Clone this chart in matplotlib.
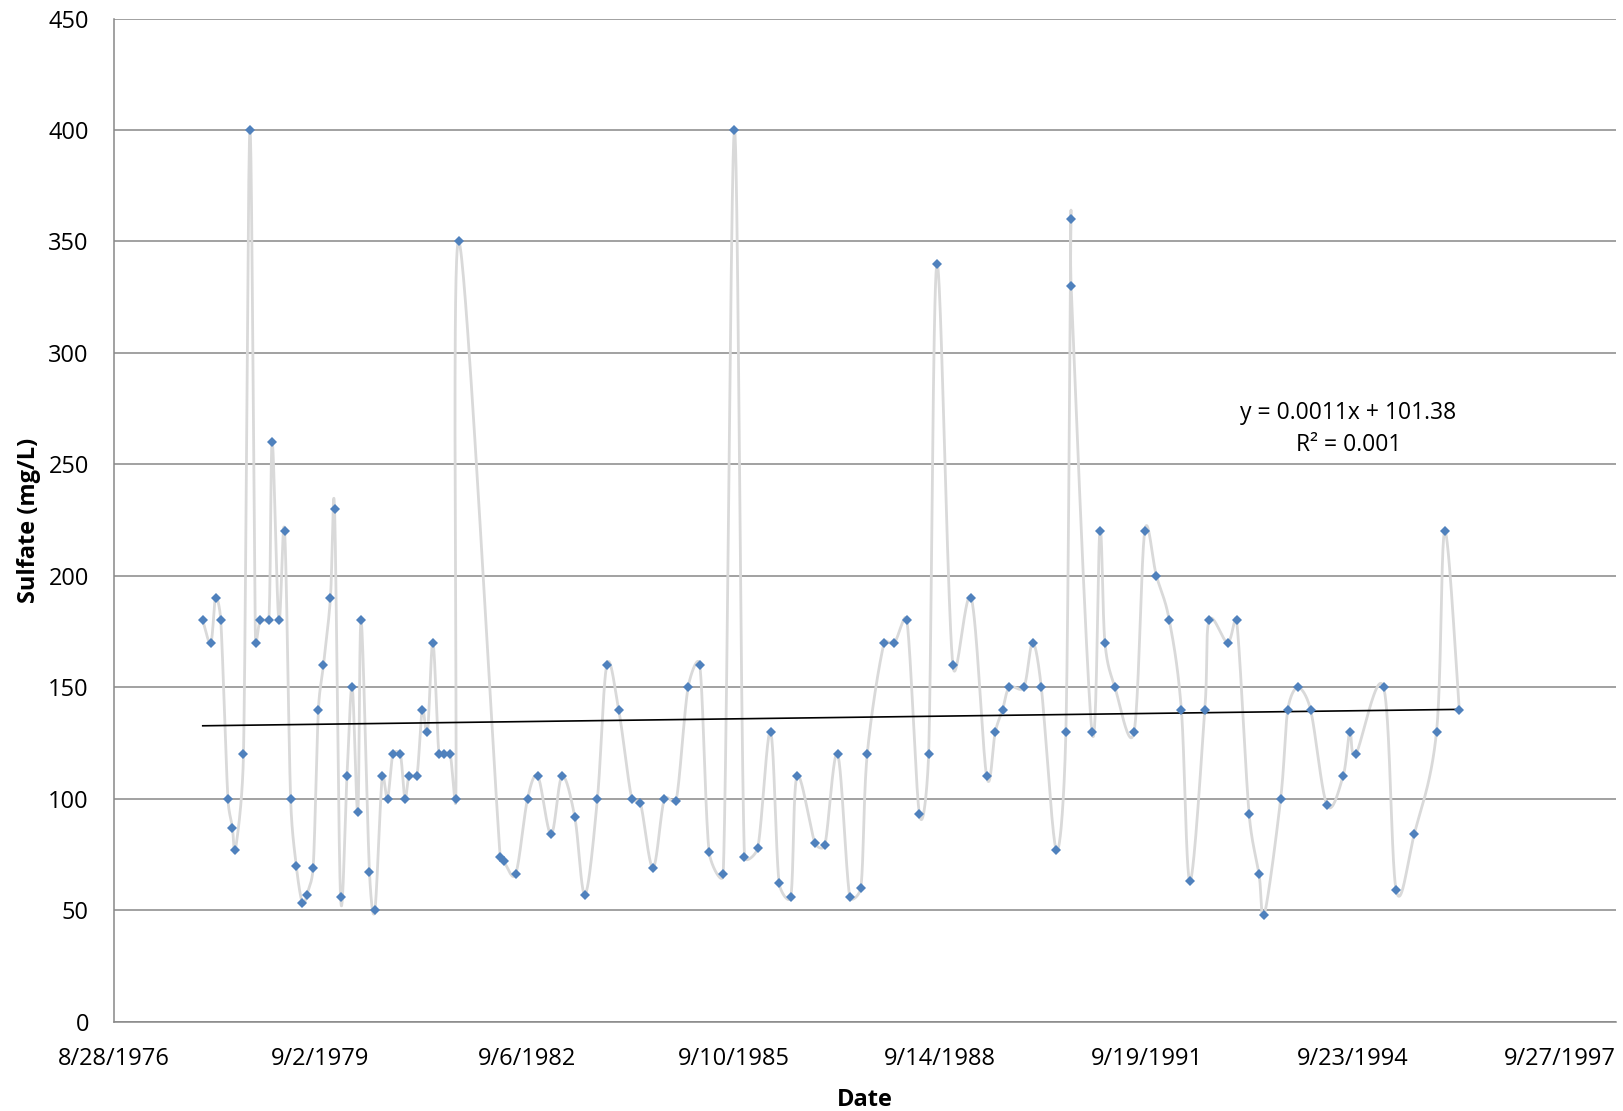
import matplotlib
matplotlib.use("Agg")
import matplotlib.pyplot as plt
import numpy as np
import pandas as pd

# sample dates and sulfate readings (mg/L)
sample_dates = [
    "1977-12-14", "1978-01-26", "1978-02-20", "1978-03-20", "1978-04-27", "1978-05-21",
    "1978-06-06", "1978-07-19", "1978-08-22", "1978-09-21", "1978-10-16", "1978-12-01",
    "1978-12-19", "1979-01-23", "1979-02-23", "1979-03-27", "1979-04-26", "1979-05-29",
    "1979-06-22", "1979-07-25", "1979-08-22", "1979-09-18", "1979-10-25", "1979-11-16",
    "1979-12-18", "1980-01-21", "1980-02-18", "1980-03-19", "1980-04-06", "1980-05-20",
    "1980-06-18", "1980-07-27", "1980-08-24", "1980-09-22", "1980-10-31", "1980-11-25",
    "1980-12-16", "1981-01-27", "1981-02-25", "1981-03-25", "1981-04-23", "1981-05-25",
    "1981-06-23", "1981-07-24", "1981-08-23", "1981-09-08", "1982-04-16", "1982-05-05",
    "1982-07-07", "1982-09-09", "1982-11-03", "1983-01-12", "1983-03-11", "1983-05-18",
    "1983-07-12", "1983-09-16", "1983-11-05", "1984-01-07", "1984-03-17", "1984-05-02",
    "1984-07-08", "1984-09-07", "1984-11-08", "1985-01-11", "1985-03-14", "1985-05-03",
    "1985-07-17", "1985-09-15", "1985-11-07", "1986-01-17", "1986-03-26", "1986-05-11",
    "1986-07-12", "1986-08-14", "1986-11-18", "1987-01-09", "1987-03-18", "1987-05-22",
    "1987-07-20", "1987-08-23", "1987-11-21", "1988-01-15", "1988-03-21", "1988-05-27",
    "1988-07-15", "1988-08-28", "1988-11-21", "1989-02-27", "1989-05-20", "1989-07-05",
    "1989-08-13", "1989-09-18", "1989-12-04", "1990-01-20", "1990-03-07", "1990-05-26",
    "1990-07-16", "1990-08-12", "1990-08-13", "1990-12-02", "1991-01-13", "1991-02-09",
    "1991-04-03", "1991-07-14", "1991-09-09", "1991-11-10", "1992-01-18", "1992-03-22",
    "1992-05-07", "1992-07-25", "1992-08-17", "1992-11-23", "1993-01-10", "1993-03-18",
    "1993-05-10", "1993-06-07", "1993-09-02", "1993-10-10", "1993-12-03", "1994-02-08",
    "1994-05-07", "1994-07-31", "1994-09-05", "1994-10-07", "1995-03-04", "1995-05-10",
    "1995-08-14", "1995-12-11", "1996-01-24", "1996-04-10",
]
sulfate = [
    180, 170, 190, 180, 100, 87, 77, 120, 400, 170, 180, 180,
    260, 180, 220, 100, 70, 53, 57, 69, 140, 160, 190, 230,
    56, 110, 150, 94, 180, 67, 50, 110, 100, 120, 120, 100,
    110, 110, 140, 130, 170, 120, 120, 120, 100, 350, 74, 72,
    66, 100, 110, 84, 110, 92, 57, 100, 160, 140, 100, 98,
    69, 100, 99, 150, 160, 76, 66, 400, 74, 78, 130, 62,
    56, 110, 80, 79, 120, 56, 60, 120, 170, 170, 180, 93,
    120, 340, 160, 190, 110, 130, 140, 150, 150, 170, 150, 77,
    130, 360, 330, 130, 220, 170, 150, 130, 220, 200, 180, 140,
    63, 140, 180, 170, 180, 93, 66, 48, 100, 140, 150, 140,
    97, 110, 130, 120, 150, 59, 84, 130, 220, 140,
]

# linear trendline as reported on the chart (x = Excel date serial)
trend_slope = 0.0011
trend_intercept = 101.38
trend_label = "y = 0.0011x + 101.38\nR\u00b2 = 0.001"

x_tick_labels = ["8/28/1976", "9/2/1979", "9/6/1982", "9/10/1985",
                 "9/14/1988", "9/19/1991", "9/23/1994", "9/27/1997"]
x_axis_end = "1998-07-24"
y_ticks = [0, 50, 100, 150, 200, 250, 300, 350, 400, 450]


def excel_serial(d):
    d = pd.to_datetime(d)
    return np.asarray((d - pd.Timestamp("1899-12-30")).days, dtype=float)


def clamp(v, limit):
    n = np.hypot(*v)
    if n > limit and n > 0:
        return v * (limit / n)
    return v


def smooth_line(ax, x, y, n=40):
    # bezier smoothing like excel's "smoothed line", done in screen space;
    # control arms are (p2-p0)/6 but never longer than half the segment
    pts = ax.transData.transform(np.column_stack([x, y]))
    pts = np.vstack([pts[0], pts, pts[-1]])
    t = np.linspace(0, 1, n)[:, None]
    out = []
    for i in range(len(x) - 1):
        p0, p1, p2, p3 = pts[i], pts[i + 1], pts[i + 2], pts[i + 3]
        half = np.hypot(*(p2 - p1)) / 2.0
        c1 = p1 + clamp((p2 - p0) / 6.0, half)
        c2 = p2 - clamp((p3 - p1) / 6.0, half)
        b = ((1 - t) ** 3) * p1 + 3 * ((1 - t) ** 2) * t * c1 + 3 * (1 - t) * t ** 2 * c2 + t ** 3 * p2
        out.append(b)
    out = ax.transData.inverted().transform(np.vstack(out))
    return out[:, 0], out[:, 1]


plt.rcParams["font.family"] = ["Open Sans", "DejaVu Sans"]

x = excel_serial(sample_dates)
y = np.array(sulfate, dtype=float)
tick_pos = excel_serial(pd.to_datetime(x_tick_labels, format="%m/%d/%Y"))

fig = plt.figure(figsize=(16.23, 11.11), dpi=100)
ax = fig.add_axes([0.0702, 0.0805, 0.9255, 0.9028])
ax.set_xlim(tick_pos[0], excel_serial(x_axis_end))
ax.set_ylim(0, 450)

sx, sy = smooth_line(ax, x, y)
ax.plot(sx, sy, color="#D9D9D9", lw=2.0, zorder=2)

tx = np.array([x.min(), x.max()])
ax.plot(tx, trend_slope * tx + trend_intercept, color="black", lw=1.2, zorder=3)

ax.plot(x, y, linestyle="none", marker="D", markersize=5.3,
        markerfacecolor="#4F81BD", markeredgewidth=0, zorder=4)

ax.text(34575, 266, trend_label, ha="center", va="center", fontsize=16.5,
        linespacing=1.45, zorder=5)

ax.set_xticks(tick_pos)
ax.set_xticklabels(x_tick_labels)
ax.set_yticks(y_ticks)

ax.grid(axis="y", color="#888888", lw=1.1)
ax.set_axisbelow(True)
for side in ["top", "right"]:
    ax.spines[side].set_visible(False)
for side in ["left", "bottom"]:
    ax.spines[side].set_color("#888888")
    ax.spines[side].set_linewidth(1.1)

ax.tick_params(axis="x", length=0, pad=18.5, labelsize=17)
ax.tick_params(axis="y", length=0, pad=18, labelsize=17)

ax.set_xlabel("Date", fontsize=17, fontweight="bold", labelpad=12)
ax.set_ylabel("Sulfate (mg/L)", fontsize=17, fontweight="bold", labelpad=5)

fig.savefig("out.png", dpi=100)
